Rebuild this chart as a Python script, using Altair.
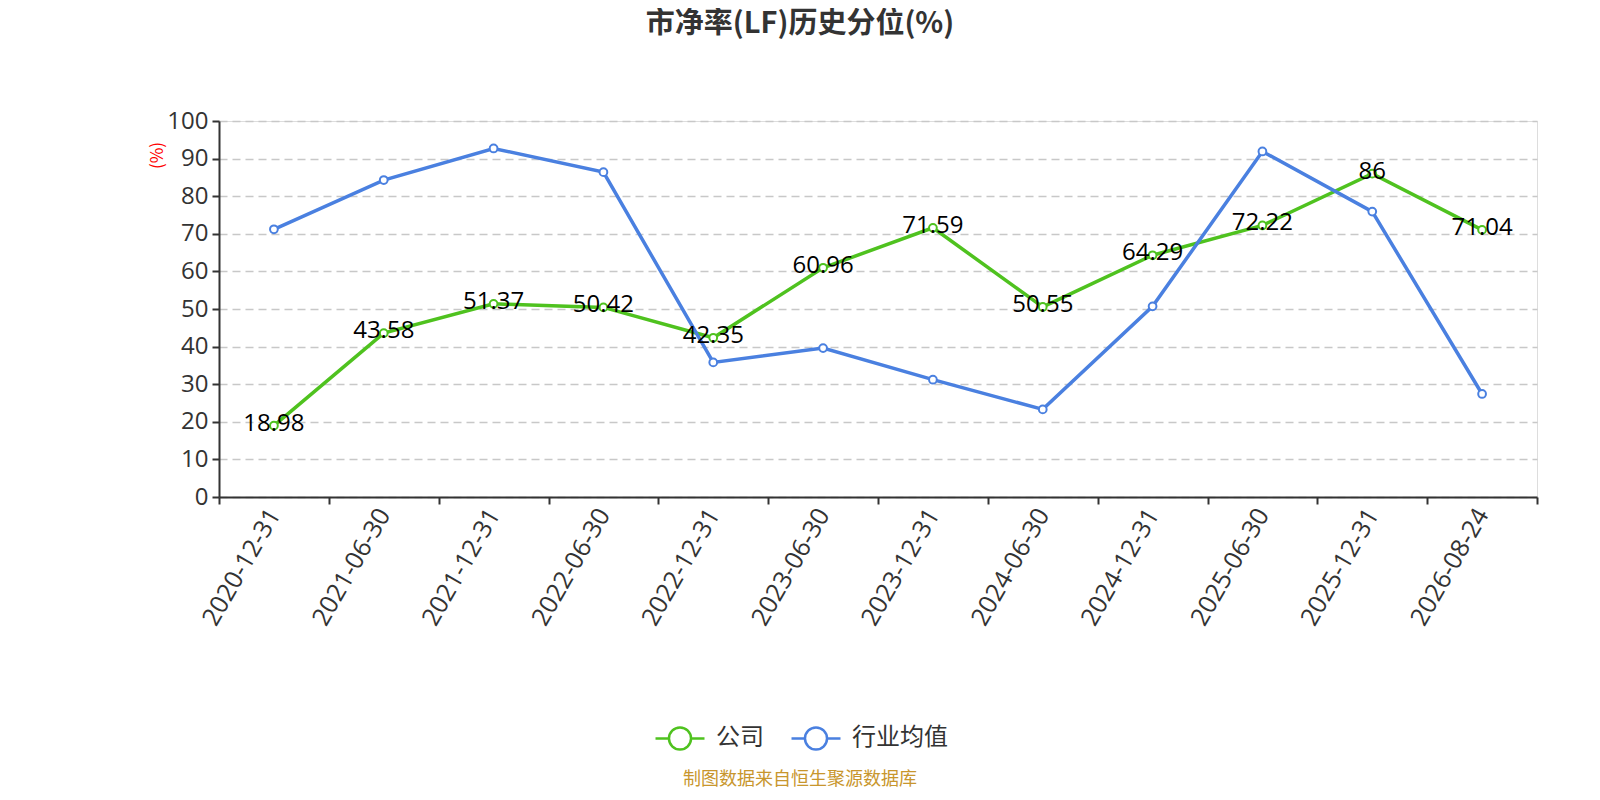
import altair as alt
import pandas as pd

dates = ["2020-12-31", "2021-06-30", "2021-12-31", "2022-06-30", "2022-12-31", "2023-06-30",
         "2023-12-31", "2024-06-30", "2024-12-31", "2025-06-30", "2025-12-31", "2026-08-24"]
company = [18.98, 43.58, 51.37, 50.42, 42.35, 60.96, 71.59, 50.55, 64.29, 72.22, 86, 71.04]
industry = [71.2, 84.3, 92.7, 86.4, 35.8, 39.6, 31.2, 23.3, 50.7, 91.9, 75.9, 27.4]
series_names = ["公司", "行业均值"]
series_colors = ["#4fc21f", "#4a80e0"]
title_text = "市净率(LF)历史分位(%)"
footer_text = "制图数据来自恒生聚源数据库"

rows = []
for d, c, i in zip(dates, company, industry):
    rows.append({"date": d, "series": series_names[0], "value": c, "order": 0})
    rows.append({"date": d, "series": series_names[1], "value": i, "order": 1})
df = pd.DataFrame(rows)
df_company = df[df["series"] == series_names[0]]

FONT = "Noto Sans CJK SC"
NUMFONT = "Open Sans"

x_enc = alt.X("date:N", sort=dates, bandPosition=0.5,
              scale=alt.Scale(type="band", paddingInner=0, paddingOuter=0),
              axis=alt.Axis(title=None, labelAngle=-60, labelAlign="right", labelBaseline="middle",
                            labelFontSize=25, labelColor="#333", labelFont=NUMFONT,
                            tickBand="extent", tickSize=7, tickColor="#333", tickWidth=2,
                            domainColor="#333", domainWidth=2, labelPadding=6, grid=False))
y_enc = alt.Y("value:Q", scale=alt.Scale(domain=[0, 100], nice=False, zero=True),
              axis=alt.Axis(values=list(range(0, 101, 10)), title="(%)", titleColor="red",
                            titleFontSize=17, titleFontWeight="normal", titleFont=FONT,
                            titleX=-62, titleY=34, titleAngle=-90, titleAlign="center",
                            titleBaseline="middle",
                            labelFontSize=24, labelColor="#333", labelFont=NUMFONT,
                            tickSize=7, tickColor="#333", tickWidth=2,
                            domainColor="#333", domainWidth=2, labelPadding=4,
                            grid=True, gridDash=[8, 5], gridColor="#c8c8c8", gridWidth=1.5))

color_enc = alt.Color("series:N", sort=series_names,
                      scale=alt.Scale(domain=series_names, range=series_colors),
                      legend=alt.Legend(title=None, orient="none", direction="horizontal",
                                        legendX=435, legendY=591,
                                        symbolType="M-1,0L-0.45,0M0.45,0L1,0M0.45,0A0.45,0.45 0 1,1 -0.45,0A0.45,0.45 0 1,1 0.45,0",
                                        symbolSize=2400, symbolStrokeWidth=2.5, symbolFillColor="white",
                                        labelFontSize=24, labelColor="#333", labelFont=FONT,
                                        columnPadding=22, labelOffset=10))

lines = alt.Chart(df).mark_line(strokeWidth=3.5).encode(
    x=x_enc, y=y_enc, color=color_enc, order=alt.Order("order:Q"),
    detail="series:N"
)

points = alt.Chart(df).mark_point(filled=True, fill="white", size=60, strokeWidth=2, opacity=1).encode(
    x=x_enc, y=y_enc,
    stroke=alt.Stroke("series:N", scale=alt.Scale(domain=series_names, range=series_colors), legend=None)
)

labels = alt.Chart(df_company).mark_text(fontSize=24, color="#000", font=NUMFONT,
                                         baseline="middle", align="center", dy=-2).encode(
    x=x_enc, y=y_enc, text="value:Q"
)

title = alt.Chart(pd.DataFrame({"t": [title_text]})).mark_text(
    fontSize=29, fontWeight="bold", color="#333", font=FONT, align="center", baseline="middle"
).encode(x=alt.value(581), y=alt.value(-97), text="t:N")

footer = alt.Chart(pd.DataFrame({"t": [footer_text]})).mark_text(
    fontSize=18, color="#c8962d", font=FONT, align="center", baseline="middle"
).encode(x=alt.value(581), y=alt.value(659), text="t:N")

chart = alt.layer(lines, points, labels, title, footer).properties(
    width=1318, height=376,
    padding={"left": 211, "top": 113, "right": 50, "bottom": 295},
    autosize=alt.AutoSizeParams(type="none")
).configure_view(stroke=None).configure(background="white")

chart.save("out.html", embed_options={"renderer": "svg", "actions": False})
